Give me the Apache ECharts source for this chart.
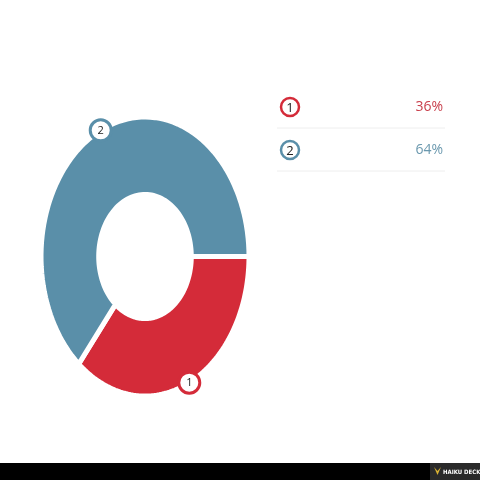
<!DOCTYPE html>
<html>
<head>
<meta charset="utf-8">
<script src="https://cdn.jsdelivr.net/npm/echarts@6/dist/echarts.min.js"></script>
<style>
html,body{margin:0;padding:0;background:#fff;}
#c{width:480px;height:480px;}
</style>
</head>
<body>
<div id="c"></div>
<script>
var categories = ['1', '2'];
var values = [36, 64];
var colors = ['#d42b39', '#5a8fa9'];
var legendTextColors = ['#c9404d', '#6a98ae'];

var total = values.reduce(function (a, b) { return a + b; }, 0);
var INNER = 0.445;
var STEPS = 90;

function angles(i) {
  var s = 0;
  for (var k = 0; k < i; k++) s += values[k];
  var a0 = s / total * Math.PI * 2;
  var a1 = (s + values[i]) / total * Math.PI * 2;
  return [a0, a1];
}

function renderItem(params, api) {
  var i = params.dataIndex;
  var a = angles(i);
  var pts = [];
  var n;
  for (n = 0; n <= STEPS; n++) {
    var t = a[0] + (a[1] - a[0]) * n / STEPS;
    pts.push(api.coord([Math.cos(t), -Math.sin(t)]));
  }
  for (n = STEPS; n >= 0; n--) {
    var t2 = a[0] + (a[1] - a[0]) * n / STEPS;
    pts.push(api.coord([INNER * Math.cos(t2), -INNER * Math.sin(t2)]));
  }
  var mid = (a[0] + a[1]) / 2;
  var lp = api.coord([Math.cos(mid), -Math.sin(mid)]);
  return {
    type: 'group',
    children: [
      {
        type: 'polygon',
        shape: { points: pts },
        style: { fill: colors[i], stroke: '#fff', lineWidth: 5 }
      },
      {
        type: 'circle',
        shape: { cx: lp[0], cy: lp[1], r: 10.5 },
        style: { fill: '#fff', stroke: colors[i], lineWidth: 3 },
        z2: 10
      },
      {
        type: 'text',
        x: lp[0], y: lp[1] + 0.5,
        style: {
          text: categories[i], fill: '#222', font: '11px "Open Sans"',
          align: 'center', verticalAlign: 'middle'
        },
        z2: 11
      }
    ]
  };
}

var legendChildren = [];
var rowY = [107, 150];
for (var i = 0; i < categories.length; i++) {
  legendChildren.push({
    type: 'circle', shape: { cx: 290, cy: rowY[i], r: 9 },
    style: { fill: '#fff', stroke: colors[i], lineWidth: 2.5 }
  });
  legendChildren.push({
    type: 'text', x: 290, y: rowY[i] + 1,
    style: { text: categories[i], fill: '#222', font: '13px "Open Sans"', align: 'center', verticalAlign: 'middle' }
  });
  legendChildren.push({
    type: 'text', x: 443, y: rowY[i],
    style: { text: Math.round(values[i] / total * 100) + '%', fill: legendTextColors[i], font: '14px "Open Sans"', align: 'right', verticalAlign: 'middle' }
  });
  legendChildren.push({
    type: 'line', shape: { x1: 277, y1: rowY[i] + 21, x2: 445, y2: rowY[i] + 21 },
    style: { stroke: '#eeeeee', lineWidth: 1 }
  });
}

var chart = echarts.init(document.getElementById('c'), null, { renderer: 'canvas' });
chart.setOption({
  animation: false,
  backgroundColor: '#fff',
  grid: { left: 41, top: 117, width: 208, height: 279 },
  xAxis: { type: 'value', min: -1, max: 1, show: false },
  yAxis: { type: 'value', min: -1, max: 1, show: false },
  series: [{
    type: 'custom',
    renderItem: renderItem,
    data: values.map(function (v, i) { return [v, i]; }),
    encode: { x: -1, y: -1 }
  }],
  graphic: [
    { type: 'group', children: legendChildren },
    { type: 'rect', shape: { x: 0, y: 463, width: 480, height: 17 }, style: { fill: '#000' } },
    { type: 'rect', shape: { x: 430, y: 463, width: 50, height: 17 }, style: { fill: '#2a2a2a' } },
    { type: 'polygon', shape: { points: [[434, 467], [437.5, 475], [441, 467], [437.5, 471]] }, style: { fill: '#d9b233' } },
    { type: 'text', x: 443, y: 472, style: { text: 'HAIKU DECK', fill: '#fff', font: 'bold 6px "DejaVu Sans Condensed"', verticalAlign: 'middle' } }
  ]
});
</script>
</body>
</html>
